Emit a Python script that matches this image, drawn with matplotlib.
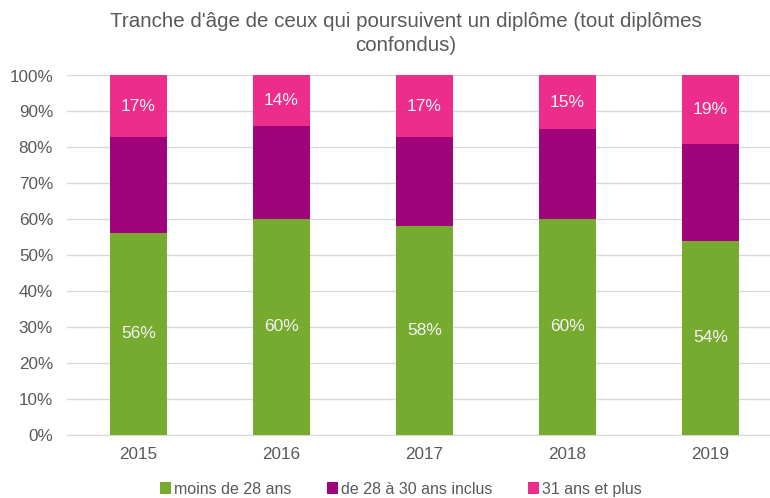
import matplotlib
matplotlib.use("Agg")
import matplotlib.pyplot as plt
from matplotlib.patches import Patch

years = ["2015", "2016", "2017", "2018", "2019"]
moins_28 = [56, 60, 58, 60, 54]
de_28_30 = [27, 26, 25, 25, 27]
plus_31 = [17, 14, 17, 15, 19]

series_names = ["moins de 28 ans", "de 28 à 30 ans inclus", "31 ans et plus"]
colors = ["#77AB2F", "#A0047A", "#EC2D8C"]
grey = "#595959"

plt.rcParams["font.family"] = ["Liberation Sans", "DejaVu Sans"]

W, H = 770, 498
fig = plt.figure(figsize=(W / 100, H / 100), dpi=100)
ax = fig.add_axes([67 / W, 1 - 434.5 / H, (W - 67) / W, (434.5 - 75.5) / H])

x = list(range(len(years)))
width = 0.40
bottoms = [0] * len(years)
for values, color, name in zip([moins_28, de_28_30, plus_31], colors, series_names):
    ax.bar(x, values, width, bottom=bottoms, color=color, label=name, zorder=3)
    if name != "de 28 à 30 ans inclus":
        for xi, b, v in zip(x, bottoms, values):
            ax.text(xi, b + v / 2, f"{v}%", ha="center", va="center",
                    color="#F4F4F4", fontsize=12.5, zorder=4)
    bottoms = [b + v for b, v in zip(bottoms, values)]

ax.set_xlim(-0.5, -0.5 + (W - 67) / 143)
ax.set_ylim(0, 100)
ax.set_yticks(range(0, 101, 10))
ax.set_yticklabels([f"{v}%" for v in range(0, 101, 10)])
ax.set_xticks(x)
ax.set_xticklabels(years)
ax.tick_params(axis="both", length=0, labelsize=12.3, colors=grey)
ax.tick_params(axis="y", pad=10)
ax.tick_params(axis="x", pad=9)
ax.grid(axis="y", color="#D9D9D9", linewidth=1, zorder=0)
for side in ["top", "right", "left"]:
    ax.spines[side].set_visible(False)
ax.spines["bottom"].set_color("#D9D9D9")

fig.text(406 / W, 1 - 12 / H, "Tranche d'âge de ceux qui poursuivent un diplôme (tout diplômes\nconfondus)",
         ha="center", va="top", fontsize=14.8, color=grey, linespacing=1.32)

handles = [Patch(facecolor=c, edgecolor="none") for c in colors]
fig.legend(handles, series_names, loc="center", bbox_to_anchor=(401 / W, 1 - 489 / H),
           ncol=3, frameon=False, fontsize=11.5, handlelength=0.7, handleheight=0.7,
           handletextpad=0.2, columnspacing=2.2, labelcolor=grey)

fig.savefig("out.png", dpi=100)
